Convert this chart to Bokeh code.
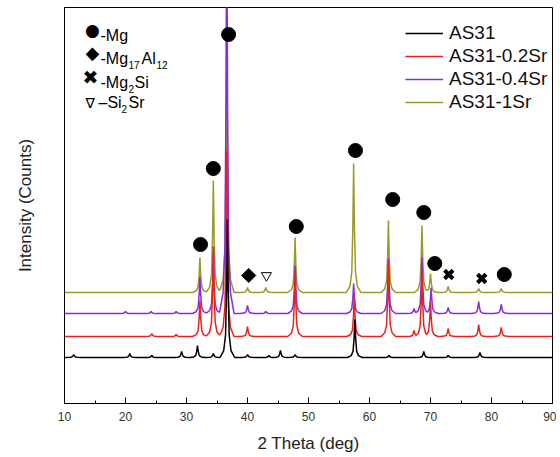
import numpy as np
from bokeh.plotting import figure
from bokeh.models import Range1d, FixedTicker, SingleIntervalTicker, Label, Legend, LegendItem
from bokeh.embed import file_html
from bokeh.resources import INLINE

# ---------------- data ----------------
series_names = ["AS31", "AS31-0.2Sr", "AS31-0.4Sr", "AS31-1Sr"]
series_colors = ["#000000", "#e8231f", "#8a2be2", "#9b9a2c"]
series_offsets = [460, 670, 900, 1110]          # stacking offsets (a.u.)

as31_2theta = [11.5, 20.7, 24.3, 29.2, 31.8, 34.4, 36.7, 40.0, 43.5, 45.4, 47.8, 57.6, 63.2, 68.9, 72.9, 78.1]
as31_height = [30, 40, 20, 60, 120, 40, 1380, 30, 20, 70, 30, 380, 20, 60, 20, 50]

sr02_2theta = [24.3, 28.3, 32.2, 34.4, 36.6, 40.0, 47.8, 57.5, 63.1, 67.3, 68.6, 70.0, 72.9, 77.9, 81.6]
sr02_height = [30, 20, 360, 900, 1860, 100, 660, 400, 740, 60, 650, 350, 80, 120, 90]

sr04_2theta = [20.0, 24.2, 28.3, 32.2, 34.4, 36.6, 40.0, 43.0, 47.8, 57.4, 63.1, 67.3, 68.6, 70.1, 72.9, 77.9, 81.6]
sr04_height = [20, 20, 20, 370, 600, 4200, 80, 20, 480, 300, 550, 50, 560, 260, 60, 120, 90]

sr1_2theta = [32.2, 34.4, 36.6, 40.0, 43.0, 47.8, 57.4, 63.1, 68.6, 70.0, 72.9, 77.9, 81.6]
sr1_height = [350, 1120, 2600, 50, 50, 550, 1290, 720, 670, 190, 60, 40, 40]

mg_mark_2theta = [32.3, 34.4, 36.9, 48.0, 57.7, 63.8, 68.9, 70.7, 82.1]
mg_mark_int = [1590, 2350, 3690, 1770, 2530, 2040, 1910, 1400, 1290]
mg17al12_mark_2theta = [40.2]
mg17al12_mark_int = [1280]
mg2si_mark_2theta = [73.0, 78.4]
mg2si_mark_int = [1290, 1250]
si2sr_mark_2theta = [43.1]
si2sr_mark_int = [1280]

# ---------------- peak profile (style) ----------------
PROFILE_DX = np.array([-1.2, -0.6, -0.3, -0.13, 0.0, 0.13, 0.3, 0.6, 1.2])
PROFILE_F = np.array([0.0, 0.05, 0.16, 0.5, 1.0, 0.5, 0.16, 0.05, 0.0])


def pattern(pos, hts, base):
    xs = [10.0, 90.0] + [p + d for p in pos for d in PROFILE_DX]
    xs = np.unique(np.clip(np.array(xs), 10, 90))
    ys = np.zeros_like(xs)
    for p, h in zip(pos, hts):
        ys = np.maximum(ys, np.interp(xs, p + PROFILE_DX, h * PROFILE_F, left=0, right=0))
    return xs, ys + base


FONT = "Liberation Sans"

p = figure(frame_width=488, frame_height=396,
           x_range=Range1d(10, 90), y_range=Range1d(0, 3960),
           output_backend="svg", toolbar_location=None,
           min_border_left=64, min_border_right=4, min_border_top=7, min_border_bottom=0)
p.grid.visible = False
p.outline_line_color = "black"
p.outline_line_width = 1
p.background_fill_color = "white"
p.border_fill_color = "white"

data = [
    (as31_2theta, as31_height),
    (sr02_2theta, sr02_height),
    (sr04_2theta, sr04_height),
    (sr1_2theta, sr1_height),
]
renderers = [None] * 4
for i in [3, 2, 1, 0]:
    xs, ys = pattern(data[i][0], data[i][1], series_offsets[i])
    renderers[i] = p.line(xs, ys, line_color=series_colors[i], line_width=1.5)

p.scatter(mg_mark_2theta, mg_mark_int, marker="circle", size=14, fill_color="black", line_color="black")
p.scatter(mg17al12_mark_2theta, mg17al12_mark_int, marker="square", angle=np.pi / 4, size=10,
          fill_color="black", line_color="black")
p.scatter(mg2si_mark_2theta, mg2si_mark_int, marker="x", size=12, line_color="black", line_width=4)
p.scatter(si2sr_mark_2theta, si2sr_mark_int, marker="inverted_triangle", size=10,
          fill_color="white", line_color="black", line_width=1)

# axes
xa = p.xaxis[0]
xa.ticker = SingleIntervalTicker(interval=10, num_minor_ticks=2)
xa.major_tick_in = 6
xa.major_tick_out = 0
xa.minor_tick_in = 3
xa.minor_tick_out = 0
xa.major_label_text_font = FONT
xa.major_label_text_font_size = "12px"
xa.major_label_text_color = "#333333"
xa.major_label_standoff = 8
xa.axis_label = "2 Theta (deg)"
xa.axis_label_text_font = FONT
xa.axis_label_text_font_size = "17px"
xa.axis_label_text_font_style = "normal"
xa.axis_label_text_color = "#222222"
xa.axis_label_standoff = 10
xa.axis_line_color = "black"

ya = p.yaxis[0]
ya.ticker = FixedTicker(ticks=[])
ya.major_tick_out = 0
ya.minor_tick_out = 0
ya.axis_label = "Intensity (Counts)"
ya.axis_label_text_font = FONT
ya.axis_label_text_font_size = "17px"
ya.axis_label_text_font_style = "normal"
ya.axis_label_text_color = "#222222"
ya.axis_label_standoff = 30
ya.axis_line_color = "black"

# legend for series
legend = Legend(items=[LegendItem(label=series_names[i], renderers=[renderers[i]]) for i in range(4)],
                location=(341, 290), padding=0, margin=0, spacing=1,
                glyph_width=38, glyph_height=20, label_height=20, label_standoff=6,
                label_text_font=FONT, label_text_font_size="19px", label_text_color="#111111",
                border_line_color=None, background_fill_alpha=0)
p.add_layout(legend)


# phase key (annotation text, placed in reference pixel positions)
def sx(px):
    return 10 + (px - 64) / 6.1


def sy(py):
    return (403 - py) * 10


def lab(text, px, py, size, align="left", baseline="alphabetic", font=FONT):
    p.add_layout(Label(x=sx(px), y=sy(py), text=text, text_font=font, text_font_size=size,
                       text_align=align, text_baseline=baseline, text_color="black"))


lab("●", 92, 29, "17px", "center", "middle", "DejaVu Sans")
lab("-Mg", 100, 35, "16px")
lab("◆", 92, 52, "18px", "center", "middle", "DejaVu Sans")
lab("-Mg", 100, 58, "16px")
lab("17", 128, 64, "10px")
lab("Al", 141, 58, "16px")
lab("12", 156, 64, "10px")
lab("✖", 90, 76, "19px", "center", "middle", "DejaVu Sans")
lab("-Mg", 100, 82, "16px")
lab("2", 128, 88, "10px")
lab("Si", 134, 82, "16px")
lab("∇", 85, 102, "14px", "left", "alphabetic", "DejaVu Sans")
lab("–Si", 98, 102, "16px")
lab("2", 121, 108, "10px")
lab("Sr", 128, 102, "16px")

open("out.html", "w").write(file_html(p, INLINE))
